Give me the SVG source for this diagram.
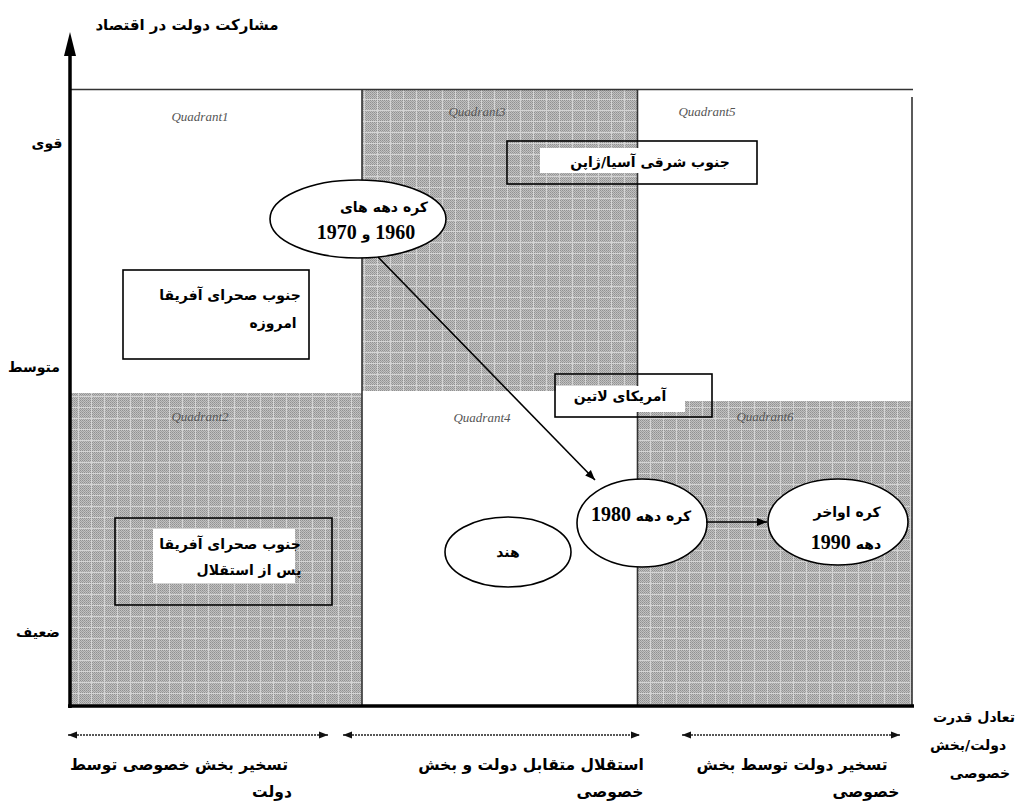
<svg xmlns="http://www.w3.org/2000/svg" width="1022" height="801" viewBox="0 0 1022 801">
<style>
.fa{font-family:"DejaVu Sans","Noto Sans",sans-serif;font-weight:bold;font-size:14px;fill:#000;direction:rtl;text-anchor:middle}
.big{font-size:15.5px}
.num{font-family:"Liberation Serif","DejaVu Serif",serif;font-weight:bold;font-size:20px}
.q{font-family:"Liberation Serif","DejaVu Serif",serif;font-style:italic;font-size:13px;fill:#555;text-anchor:middle}
.box{fill:none;stroke:#000;stroke-width:1.6}
.ell{fill:#fff;stroke:#000;stroke-width:1.6}
.div{stroke:#333;stroke-width:1.6;fill:none}
.con{stroke:#000;stroke-width:1.6;fill:none}
.dbl{stroke:#222;stroke-width:1.6;stroke-dasharray:2 1;fill:none}
</style>
<defs>
<pattern id="fine" width="2" height="2" patternUnits="userSpaceOnUse">
<rect width="2" height="2" fill="#c0c0c0"/>
<rect width="1" height="1" fill="#919191"/>
<rect x="1" y="1" width="1" height="1" fill="#a0a0a0"/>
</pattern>
<pattern id="grid" width="13" height="11" patternUnits="userSpaceOnUse">
<path d="M0 0.5H13M0.5 0V11" stroke="#d4d4d4" stroke-width="1"/>
</pattern>
<marker id="ah" viewBox="0 0 10 10" refX="10" refY="5" markerWidth="10" markerHeight="10" markerUnits="userSpaceOnUse" orient="auto-start-reverse">
<path d="M0 1L10 5L0 9Z" fill="#000"/>
</marker>
<marker id="ah2" viewBox="0 0 10 10" refX="10" refY="5" markerWidth="9" markerHeight="9" markerUnits="userSpaceOnUse" orient="auto-start-reverse">
<path d="M0 1L10 5L0 9Z" fill="#111"/>
</marker>
</defs>
<rect width="1022" height="801" fill="#fff"/>

<g id="quadrants">
<rect x="70" y="393" width="292" height="313" fill="url(#fine)"/>
<rect x="70" y="393" width="292" height="313" fill="url(#grid)"/>
<rect x="362" y="89" width="276" height="302" fill="url(#fine)"/>
<rect x="362" y="89" width="276" height="302" fill="url(#grid)"/>
<rect x="638" y="401" width="274" height="305" fill="url(#fine)"/>
<rect x="638" y="401" width="274" height="305" fill="url(#grid)"/>
<path class="div" d="M70 89.5H913"/>
<path class="div" d="M362 89V706M637.5 89V706M912 97V706"/>
<text class="q" x="200" y="121">Quadrant1</text>
<text class="q" x="477" y="116">Quadrant3</text>
<text class="q" x="707" y="116">Quadrant5</text>
<text class="q" x="200" y="421">Quadrant2</text>
<text class="q" x="482" y="422">Quadrant4</text>
<text class="q" x="765" y="421">Quadrant6</text>
</g>

<g id="axes">
<path d="M70 52V708" stroke="#000" stroke-width="3.5"/>
<path d="M64 56L70 32L76 56Z" fill="#000"/>
<path d="M68 706H914" stroke="#000" stroke-width="3.5"/>
</g>

<g id="axis-labels">
<text class="fa" x="187" y="30" style="font-size:15px">مشارکت دولت در اقتصاد</text>
<text class="fa" x="47" y="148">قوی</text>
<text class="fa" x="34" y="372">متوسط</text>
<text class="fa" x="38" y="637">ضعیف</text>
<text class="fa" x="974" y="722">تعادل قدرت</text>
<text class="fa" x="968" y="750">دولت/بخش</text>
<text class="fa" x="980" y="778">خصوصی</text>
</g>

<g id="box-africa-today">
<rect class="box" x="123" y="270" width="186" height="89"/>
<text class="fa" x="230" y="300">جنوب صحرای آفریقا</text>
<text class="fa" x="273" y="328">امروزه</text>
</g>

<g id="box-east-asia">
<rect x="540" y="148" width="216" height="25" fill="#fff"/>
<rect class="box" x="507" y="141" width="250" height="43"/>
<text class="fa" x="650" y="167">جنوب شرقی آسیا/ژاپن</text>
</g>

<g id="box-latin-america">
<rect x="556" y="386" width="129" height="26" fill="#fff"/>
<rect class="box" x="555" y="374" width="157" height="43"/>
<text class="fa" x="620" y="401">آمریکای لاتین</text>
</g>

<g id="box-africa-post">
<rect x="153" y="529" width="142" height="54" fill="#fff"/>
<rect class="box" x="115" y="518" width="217" height="87"/>
<text class="fa" x="230" y="549">جنوب صحرای آفریقا</text>
<text class="fa" x="249" y="575">پس از استقلال</text>
</g>

<g id="ellipse-1960s">
<ellipse class="ell" cx="358" cy="219" rx="88" ry="39"/>
<text class="fa" x="384" y="212">کره دهه های</text>
<text class="fa" x="366" y="239"><tspan class="num">1960</tspan> و <tspan class="num">1970</tspan></text>
</g>

<g id="ellipse-1980">
<ellipse class="ell" cx="642" cy="523" rx="65" ry="44"/>
<text class="fa" x="641" y="521">کره دهه <tspan class="num">1980</tspan></text>
</g>

<g id="ellipse-1990">
<ellipse class="ell" cx="838" cy="522" rx="70" ry="43"/>
<text class="fa" x="847" y="517">کره اواخر</text>
<text class="fa" x="846" y="549">دهه <tspan class="num">1990</tspan></text>
</g>

<g id="ellipse-india">
<ellipse class="ell" cx="508" cy="552" rx="63" ry="35"/>
<text class="fa" x="508" y="557">هند</text>
</g>

<g id="connectors">
<path class="con" d="M378 257L595 480" marker-end="url(#ah)"/>
<path class="con" d="M706 522H767" marker-end="url(#ah)"/>
<path class="dbl" d="M68 735H328" marker-start="url(#ah2)" marker-end="url(#ah2)"/>
<path class="dbl" d="M343 735H640" marker-start="url(#ah2)" marker-end="url(#ah2)"/>
<path class="dbl" d="M682 735H900" marker-start="url(#ah2)" marker-end="url(#ah2)"/>
</g>

<g id="range-labels">
<text class="fa big" x="179" y="770">تسخیر بخش خصوصی توسط</text>
<text class="fa big" x="272" y="797">دولت</text>
<text class="fa big" x="531" y="770">استقلال متقابل دولت و بخش</text>
<text class="fa big" x="610" y="797">خصوصی</text>
<text class="fa big" x="792" y="770">تسخیر دولت توسط بخش</text>
<text class="fa big" x="866" y="797">خصوصی</text>
</g>
</svg>
